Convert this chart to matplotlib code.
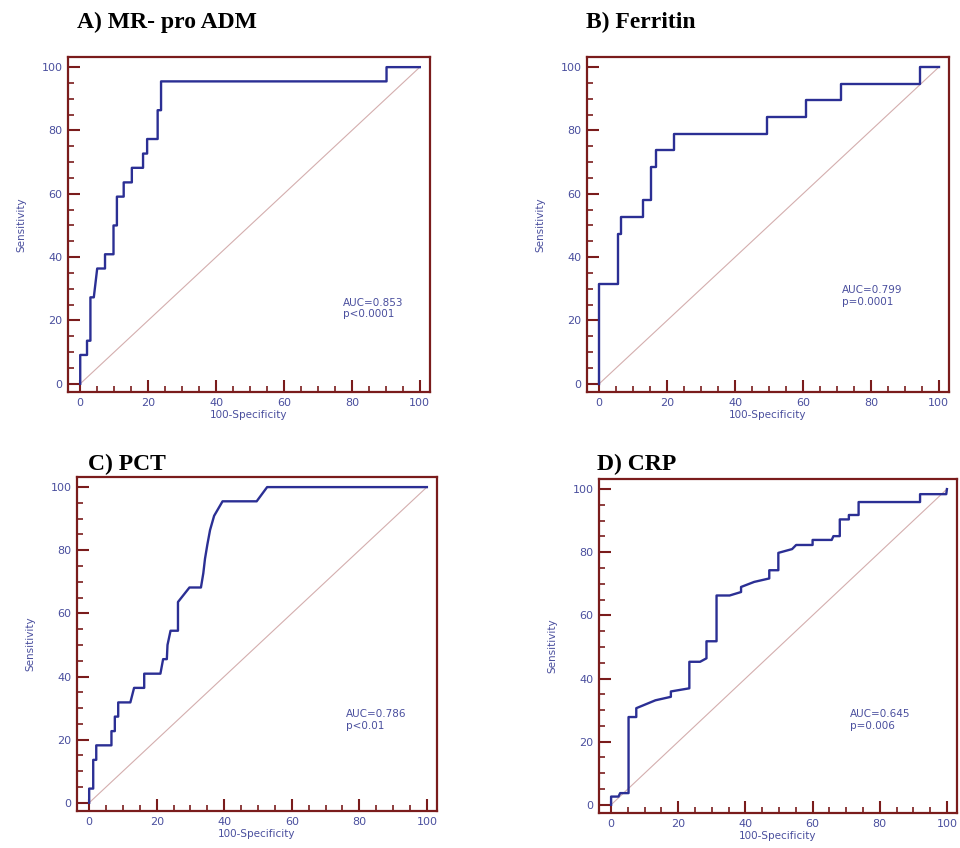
import numpy as np
from matplotlib import pyplot as plt
from matplotlib.ticker import MultipleLocator

# ROC points (100-Specificity, Sensitivity)
adm_x = [0, 0, 2, 2, 3, 3, 4, 5, 7.3, 7.3, 9.8, 9.8, 10.8, 10.8, 12.8, 12.8, 15.2, 15.2,
         18.5, 18.5, 19.7, 19.7, 22.8, 22.8, 23.8, 23.8, 90.2, 90.2, 100]
adm_y = [0, 9.1, 9.1, 13.6, 13.6, 27.3, 27.3, 36.4, 36.4, 40.9, 40.9, 50, 50, 59.1, 59.1,
         63.6, 63.6, 68.2, 68.2, 72.7, 72.7, 77.3, 77.3, 86.4, 86.4, 95.5, 95.5, 100, 100]

fer_x = [0, 0, 5.4, 5.4, 6.5, 6.5, 12.8, 12.8, 15.3, 15.3, 16.7, 16.7, 21.9, 21.9,
         49.4, 49.4, 61.0, 61.0, 71.3, 71.3, 94.6, 94.6, 100]
fer_y = [0, 31.6, 31.6, 47.4, 47.4, 52.6, 52.6, 57.9, 57.9, 68.4, 68.4, 73.7, 73.7, 78.9,
         78.9, 84.2, 84.2, 89.5, 89.5, 94.7, 94.7, 100, 100]

pct_x = [0, 0, 1.2, 1.2, 2.1, 2.1, 6.6, 6.6, 7.6, 7.6, 8.6, 8.6, 12.2, 13.3, 16.3, 16.3,
         21.1, 21.9, 23.0, 23.2, 24.1, 26.3, 26.3, 29.7, 33.1, 33.8, 34.3, 35.0, 35.8,
         37.0, 39.5, 49.6, 52.7, 100]
pct_y = [0, 4.5, 4.5, 13.6, 13.6, 18.2, 18.2, 22.7, 22.7, 27.3, 27.3, 31.8, 31.8, 36.4,
         36.4, 40.9, 40.9, 45.5, 45.5, 50.0, 54.5, 54.5, 63.6, 68.2, 68.2, 72.7, 77.3,
         81.8, 86.4, 90.9, 95.5, 95.5, 100, 100]

crp_x = [0, 0, 2.2, 2.7, 5.2, 5.2, 7.5, 7.5, 13.2, 17.8, 17.8, 23.3, 23.3, 26.5, 28.4,
         28.4, 31.4, 31.4, 35.3, 38.7, 38.7, 42.6, 47.1, 47.1, 49.8, 49.8, 53.9, 55.1,
         60.0, 60.0, 65.7, 66.2, 68.1, 68.1, 70.8, 70.8, 73.7, 73.7, 92.0, 92.0, 99.8, 100]
crp_y = [0, 2.6, 2.6, 3.7, 3.7, 27.8, 27.8, 30.6, 33.1, 34.2, 35.9, 36.9, 45.3, 45.3,
         46.4, 51.8, 51.8, 66.3, 66.3, 67.4, 69.0, 70.6, 71.7, 74.3, 74.3, 79.8, 81.0,
         82.3, 82.3, 83.9, 83.9, 85.1, 85.1, 90.4, 90.4, 91.8, 91.8, 95.9, 95.9, 98.4,
         98.4, 100]

titles = ["A) MR- pro ADM", "B) Ferritin", "C) PCT", "D) CRP"]
auc_text = ["AUC=0.853\np<0.0001", "AUC=0.799\np=0.0001",
            "AUC=0.786\np<0.01", "AUC=0.645\np=0.006"]
auc_pos = [(77.5, 20.4), (71.6, 24.4), (76.1, 22.8), (71.1, 23.5)]
curves = [(adm_x, adm_y), (fer_x, fer_y), (pct_x, pct_y), (crp_x, crp_y)]

# axes boxes in pixels: left, top, right, bottom
boxes = [(68, 57, 430, 392), (587, 57, 949, 392),
         (77, 477, 437, 811), (599, 479, 957, 813)]
title_pos = [(77, 22), (586, 22), (88, 464), (597, 464)]

W, H = 960, 848
frame = "#7a1c1c"
txt = "#4a4f9e"
line = "#2b2f94"

fig = plt.figure(figsize=(W / 100, H / 100), dpi=100)

for i in range(4):
    l, t, r, b = boxes[i]
    ax = fig.add_axes([l / W, 1 - b / H, (r - l) / W, (b - t) / H])
    ax.plot([0, 100], [0, 100], color="#d4aeae", lw=0.8)
    ax.plot(curves[i][0], curves[i][1], color=line, lw=1.7)
    ax.set_xlim(-3.6, 103)
    ax.set_ylim(-2.6, 103.2)
    ax.xaxis.set_major_locator(MultipleLocator(20))
    ax.xaxis.set_minor_locator(MultipleLocator(5))
    ax.yaxis.set_major_locator(MultipleLocator(20))
    ax.yaxis.set_minor_locator(MultipleLocator(5))
    ax.tick_params(which="major", direction="in", length=8.5, width=1.5, color=frame,
                   labelcolor=txt, labelsize=8, pad=4)
    ax.tick_params(which="minor", direction="in", length=4.5, width=1.2, color=frame)
    for s in ax.spines.values():
        s.set_color(frame)
        s.set_linewidth(1.6)
    ax.set_xlabel("100-Specificity", color=txt, fontsize=7.5, labelpad=2)
    ax.set_ylabel("Sensitivity", color=txt, fontsize=7.5, labelpad=11)
    ax.text(auc_pos[i][0], auc_pos[i][1], auc_text[i], color=txt, fontsize=7.5,
            va="bottom", ha="left", linespacing=1.2)
    fig.text(title_pos[i][0] / W, 1 - title_pos[i][1] / H, titles[i],
             family="Liberation Serif", weight="bold", fontsize=17, va="center")

plt.savefig("out.png", dpi=100)
